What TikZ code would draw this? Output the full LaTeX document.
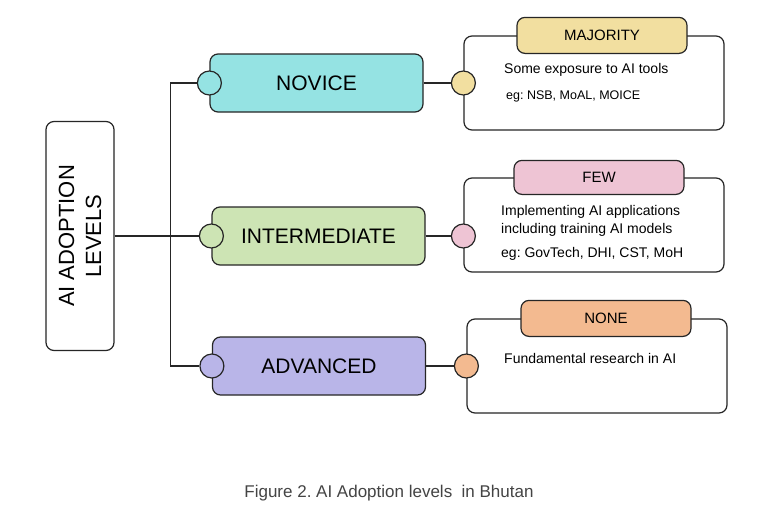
\documentclass[tikz,border=0pt]{standalone}
\usepackage{fontspec}
\setmainfont{Liberation Sans}
\usepackage{xcolor}
\usetikzlibrary{positioning}
\frenchspacing
\definecolor{novice-cyan}{HTML}{95E3E3}
\definecolor{inter-green}{HTML}{CDE4B4}
\definecolor{adv-lavender}{HTML}{B9B5E8}
\definecolor{major-yellow}{HTML}{F2DFA0}
\definecolor{few-pink}{HTML}{EEC4D4}
\definecolor{none-orange}{HTML}{F3BA90}
\definecolor{caption-gray}{HTML}{444444}
\tikzset{
    head-box/.style = {draw=black!85, fill=white, line width=1.2pt, rectangle, rounded corners=8pt, minimum width=229pt, minimum height=68pt, align=center, font=\fontsize{22}{27}\selectfont},
    level-box/.style = {draw=black!85, fill=#1, line width=1.2pt, rectangle, rounded corners=8pt, minimum width=213pt, minimum height=58pt, font=\fontsize{21}{25}\selectfont},
    level-dot/.style = {draw=black!85, fill=#1, line width=1.2pt, circle, minimum size=24pt, inner sep=0pt},
    detail-box/.style = {draw=black!85, fill=white, line width=1.2pt, rectangle, rounded corners=8pt, minimum width=260pt, minimum height=94pt},
    detail-box-title/.style = {draw=black!85, fill=#1, line width=1.2pt, rectangle, rounded corners=8pt, minimum width=170pt, minimum height=36pt, font=\fontsize{15}{18}\selectfont},
    detail-text/.style = {anchor=west, inner sep=0pt, font=\fontsize{14}{17}\selectfont},
    link/.style = {draw=black!85, line width=1.2pt},
}

\begin{document}
\begin{tikzpicture}[x=1pt, y=-1pt]
\fill[white] (0,0) rectangle (769,514);
\useasboundingbox (0,0) rectangle (769,514);

% left column
\node[head-box, rotate=90] (levels) at (80,236) {AI ADOPTION\\LEVELS};

% levels
\node[level-box=novice-cyan] (novice) at (316.5,83) {NOVICE};
\node[level-box=inter-green] (intermediate) at (318.5,236) {INTERMEDIATE};
\node[level-box=adv-lavender] (advanced) at (319,366) {ADVANCED};

% details
\node[detail-box] (majority) at (594,83) {};
\node[detail-box-title=major-yellow] (majority-title) at ([xshift=8pt]majority.north) {MAJORITY};
\node[detail-text] (majority-what) at (504,70) {Some exposure to AI tools};
\node[detail-text, font=\fontsize{12.5}{15}\selectfont] (majority-eg) at (506,96) {eg: NSB, MoAL, MOICE};

\node[detail-box] (few) at (594,225) {};
\node[detail-box-title=few-pink, minimum height=34pt] (few-title) at ([xshift=5pt]few.north) {FEW};
\node[detail-text] (few-what) at (501,212) {Implementing AI applications};
\node[detail-text] (few-what2) at (501,230) {including training AI models};
\node[detail-text] (few-eg) at (501,254) {eg: GovTech, DHI, CST, MoH};

\node[detail-box] (none) at (597,366) {};
\node[detail-box-title=none-orange] (none-title) at ([xshift=9pt]none.north) {NONE};
\node[detail-text] (none-what) at (504,358) {Fundamental research in AI};

% dots
\node[level-dot=novice-cyan] (novice-in) at (novice.west) {};
\node[level-dot=inter-green] (intermediate-in) at (intermediate.west) {};
\node[level-dot=adv-lavender] (advanced-in) at (advanced.west) {};
\node[level-dot=major-yellow] (novice-out) at (majority.west |- novice.east) {};
\node[level-dot=few-pink] (intermediate-out) at (few.west |- intermediate.east) {};
\node[level-dot=none-orange] (advanced-out) at (none.west |- advanced.east) {};

% links
\coordinate (trunk) at ([xshift=56pt]levels.south);
\draw[link] (levels.south) -- (trunk);
\draw[link] (novice-in.west) -| (trunk) |- (advanced-in.west);
\draw[link] (trunk) -- (intermediate-in.west);
\draw[link] (novice.east) -- (novice-out.west);
\draw[link] (intermediate.east) -- (intermediate-out.west);
\draw[link] (advanced.east) -- (advanced-out.west);

\node[font=\fontsize{17}{20}\selectfont, text=caption-gray] (caption) at (389,493) {Figure 2. AI Adoption levels\ \ in Bhutan};
\end{tikzpicture}
\end{document}
